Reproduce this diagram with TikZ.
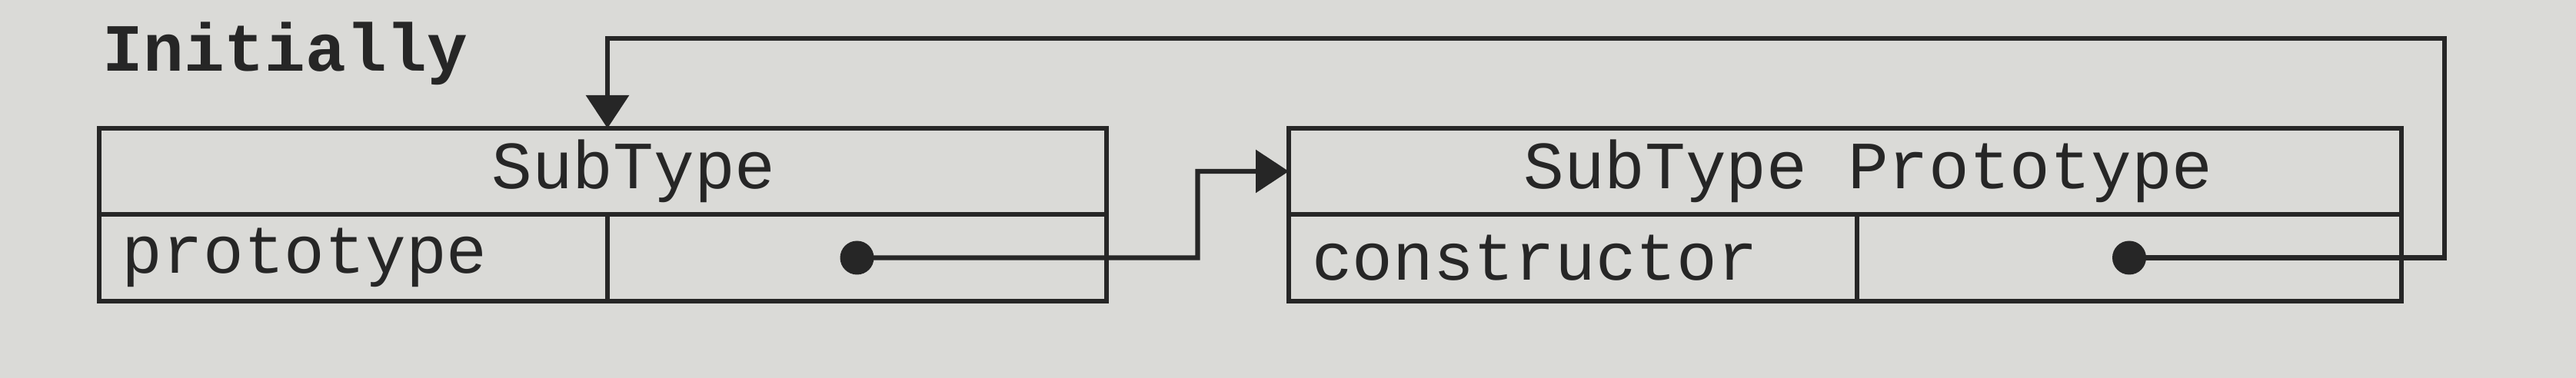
\documentclass[tikz,border=0pt]{standalone}
\usepackage{fontspec}
\setmonofont{Liberation Mono}
\usetikzlibrary{positioning,calc,arrows.meta}
\definecolor{paper}{RGB}{218,218,215}
\definecolor{ink}{RGB}{38,38,38}
\tikzset{
  box/.style={draw=ink, line width=1.9pt, outer sep=0pt, text=ink,
    font=\ttfamily\fontsize{25}{30}\selectfont},
  header/.style={box, minimum width=#1, minimum height=1.12cm, inner sep=0pt},
  field/.style={box, text width=#1, minimum height=1.13cm, inner xsep=0.3cm,
    inner ysep=0pt, align=left},
  slot/.style={box, minimum width=#1, minimum height=1.13cm, inner sep=0pt},
  dot/.style={circle, fill=ink, minimum size=0.44cm, inner sep=0pt},
  link/.style={draw=ink, line width=1.8pt, -{Triangle[length=0.43cm,width=0.55cm]}},
  title/.style={text=ink, inner sep=0pt, font=\ttfamily\bfseries\fontsize{25}{30}\selectfont}
}
\begin{document}
\begin{tikzpicture}
  \fill[paper] (0,0) rectangle (33.5,4.92);
  \useasboundingbox (0,0) rectangle (33.5,4.92);

  % SubType
  \node[header=13.10cm] (h1) at (7.84,2.69) {\hspace*{0.8cm}SubType};
  \node[field=6.01cm, below right=0pt and 0pt of h1.south west] (key1) {prototype};
  \node[slot=6.49cm, right=0pt of key1] (val1) {};
  \node[dot] (p1) at (val1.center) {};

  % SubType Prototype
  \node[header=14.47cm] (h2) at (23.995,2.69) {\hspace*{0.6cm}SubType Prototype};
  \node[field=6.79cm, below right=0pt and 0pt of h2.south west] (key2) {constructor};
  \node[slot=7.08cm, right=0pt of key2] (val2) {};
  \node[dot] (p2) at (val2.center) {};

  \node[title, anchor=base west] (title) at ([xshift=0.04cm,yshift=0.74cm]h1.north west) {Initially};

  \coordinate (bend) at ($(h1.east)!0.5!(h2.west)$);
  \coordinate (looptop) at (31.79,4.42);
  \coordinate (entry) at (h1.north -| key1.east);

  \draw[link] (p1.center) -| (bend) -- (h2.west);
  \draw[link] (p2.center) -| (looptop) -| (entry);
\end{tikzpicture}
\end{document}
